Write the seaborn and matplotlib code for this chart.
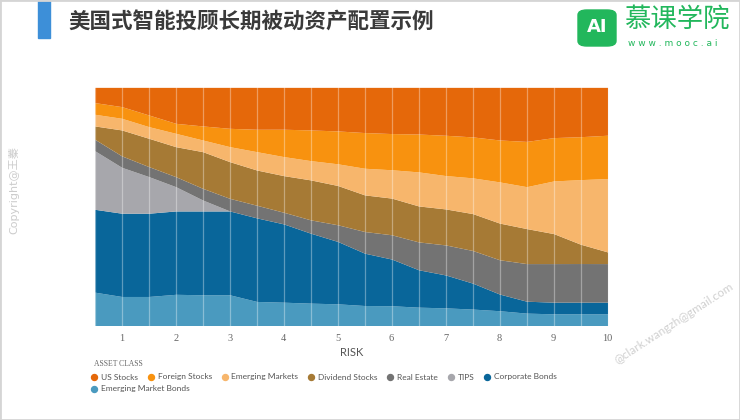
import numpy as np
import pandas as pd
import matplotlib.pyplot as plt
import seaborn as sns
from matplotlib.lines import Line2D
from matplotlib.patches import Rectangle, FancyBboxPatch

# risk score (Wealthfront style 0.5 .. 10)
risk = [0.5, 1.0, 1.5, 2.0, 2.5, 3.0, 3.5, 4.0, 4.5, 5.0,
        5.5, 6.0, 6.5, 7.0, 7.5, 8.0, 8.5, 9.0, 9.5, 10.0]

# allocation in %
us_stocks = [6.4, 8.1, 11.6, 15.1, 16.2, 17.2, 17.6, 17.6, 17.9, 18.3,
             19.0, 19.4, 19.6, 20.1, 20.8, 22.1, 22.7, 21.1, 20.7, 20.1]
foreign_stocks = [4.9, 4.9, 4.9, 4.2, 5.9, 7.7, 9.4, 11.5, 12.9, 13.8,
                  15.0, 15.2, 15.9, 16.9, 17.2, 17.6, 19.0, 18.2, 18.0, 18.2]
emerging_markets = [4.9, 4.9, 4.9, 5.6, 4.9, 6.3, 7.7, 8.0, 8.1, 9.1,
                    11.2, 11.9, 14.3, 14.0, 15.0, 17.3, 17.6, 22.1, 27.1, 30.8]
dividend_stocks = [5.6, 10.9, 11.9, 12.6, 15.4, 15.4, 14.8, 15.4, 16.8, 16.5,
                   15.4, 15.4, 15.1, 15.1, 15.5, 15.4, 14.7, 12.6, 8.1, 4.9]
real_estate = [4.8, 4.8, 4.2, 4.2, 4.9, 5.3, 5.3, 4.9, 5.6, 7.0,
               9.1, 10.2, 11.7, 12.6, 13.7, 14.4, 15.8, 16.2, 16.2, 16.2]
tips = [24.6, 19.3, 15.4, 10.2, 4.6, 0, 0, 0, 0, 0,
        0, 0, 0, 0, 0, 0, 0, 0, 0, 0]
corporate_bonds = [34.8, 35.0, 35.0, 35.0, 35.2, 35.2, 35.1, 32.9, 29.4, 26.2,
                   22.0, 19.6, 15.7, 13.8, 10.9, 7.0, 5.0, 4.9, 4.9, 4.9]
em_bonds = [14.0, 12.2, 12.2, 13.1, 12.9, 12.9, 10.1, 9.8, 9.4, 9.1,
            8.4, 8.3, 7.7, 7.4, 6.9, 6.2, 5.2, 4.9, 4.9, 4.9]

asset_classes = ["US Stocks", "Foreign Stocks", "Emerging Markets", "Dividend Stocks",
                 "Real Estate", "TIPS", "Corporate Bonds", "Emerging Market Bonds"]
colors = ["#E5680A", "#F8920F", "#F7B66C", "#A67A35",
          "#737373", "#A7A7AC", "#09669A", "#4A9ABF"]

df = pd.DataFrame({
    "US Stocks": us_stocks,
    "Foreign Stocks": foreign_stocks,
    "Emerging Markets": emerging_markets,
    "Dividend Stocks": dividend_stocks,
    "Real Estate": real_estate,
    "TIPS": tips,
    "Corporate Bonds": corporate_bonds,
    "Emerging Market Bonds": em_bonds,
}, index=risk)
# normalise each risk level to 100%
df = df.div(df.sum(axis=1), axis=0) * 100

sns.set_theme(style="white")
plt.rcParams["font.family"] = ["Lato", "Noto Sans CJK SC", "DejaVu Sans"]
palette = dict(zip(asset_classes, sns.color_palette(colors)))

fig = plt.figure(figsize=(7.4, 4.2), dpi=100)
ax = fig.add_axes([0.128, 0.225, 0.693, 0.567])

# stack from the bottom: bonds first, US stocks on top
order = asset_classes[::-1]
ax.stackplot(df.index, [df[c] for c in order],
             colors=[palette[c] for c in order], linewidth=0)

ax.set_xlim(0.5, 10)
ax.set_ylim(0, 100)
ax.set_xticks(range(1, 11))
ax.set_xticks(risk, minor=True)
ax.set_yticks([])
ax.grid(which="both", axis="x", color="white", alpha=0.35, linewidth=0.9)
ax.grid(False, axis="y")
ax.set_axisbelow(False)
for s in ax.spines.values():
    s.set_visible(False)
ax.tick_params(axis="x", which="both", length=0, pad=6, labelsize=7.5, labelcolor="#666666")
for lab in ax.get_xticklabels():
    lab.set_family("Liberation Serif")
ax.set_xlabel("RISK", fontsize=8, color="#555555", labelpad=3)

# legend
fig.text(0.127, 1 - 364 / 420, "ASSET CLASS", fontsize=5.5, color="#666666",
         family="Liberation Serif", va="center")
handles = [Line2D([], [], marker="o", linestyle="", markersize=4.3,
                  color=palette[c], label=c) for c in asset_classes]
leg_kw = dict(frameon=False, fontsize=6.0, handlelength=0.6, handletextpad=0.5,
              columnspacing=1.25, borderaxespad=0, borderpad=0, labelcolor="#555555")
fig.legend(handles=handles[:7], ncol=7, loc="center left",
           bbox_to_anchor=(0.124, 1 - 377 / 420), **leg_kw)
fig.legend(handles=handles[7:], ncol=1, loc="center left",
           bbox_to_anchor=(0.124, 1 - 389 / 420), **leg_kw)

# slide header
fig.patches.append(Rectangle((38 / 740, 1 - 38 / 420), 12 / 740, 38 / 420,
                             transform=fig.transFigure, color="#3D8FD8"))
fig.text(68 / 740, 1 - 22 / 420, "美国式智能投顾长期被动资产配置示例", fontsize=15.5,
         weight="bold", color="#3a3a3a", va="center",
         family=["Noto Sans CJK SC", "DejaVu Sans"])

green = "#22B75C"
fig.patches.append(FancyBboxPatch((578 / 740, 1 - 46 / 420), 38 / 740, 36 / 420,
                                  boxstyle="round,pad=0,rounding_size=0.012",
                                  transform=fig.transFigure, color=green))
fig.text(597 / 740, 1 - 27 / 420, "AI", fontsize=13, weight="bold", color="white",
         ha="center", va="center", family="DejaVu Sans")
fig.text(624 / 740, 1 - 19 / 420, "慕课学院", fontsize=19, color=green, va="center",
         family=["Noto Sans CJK SC", "DejaVu Sans"])
fig.text(628 / 740, 1 - 43 / 420, "w w w . m o o c . a i", fontsize=6.5, color=green,
         va="center", family="DejaVu Sans")

# watermarks
fig.text(14 / 740, 1 - 190 / 420, "Copyright@王蓁", rotation=90, fontsize=8,
         color="#cccccc", ha="center", va="center",
         family=["DejaVu Sans", "Noto Sans CJK SC"])
fig.text(674 / 740, 1 - 323 / 420, "@clark.wangzh@gmail.com", rotation=33,
         fontsize=8.5, color="#d0d0d0", ha="center", va="center")

# slide frame
fig.patches.append(Rectangle((0, 0), 1, 1, transform=fig.transFigure,
                             fill=False, edgecolor="#d5d5d5", linewidth=2))

fig.savefig("out.png", dpi=100)
